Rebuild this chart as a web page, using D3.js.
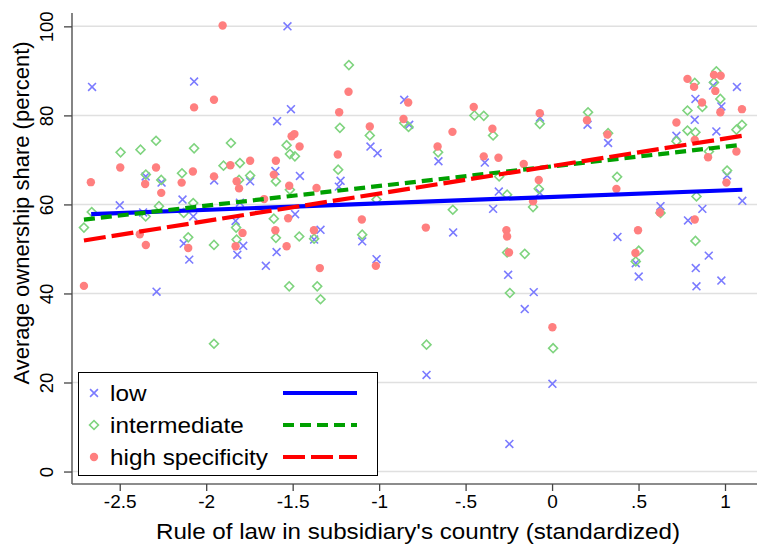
<!DOCTYPE html>
<html>
<head>
<meta charset="utf-8">
<script src="https://cdn.jsdelivr.net/npm/d3@7"></script>
<style>
  body { margin: 0; background: #fff; }
  text { font-family: "Liberation Sans", Arial, sans-serif; fill: #000; }
</style>
</head>
<body>
<div id="chart"></div>
<script>
// scatter data: [rule of law, ownership share]
var lowPts = [
  [-2.66, 86.4], [-2.07, 87.6], [-1.53, 100], [-1.51, 81.4], [-1.59, 78.7], [-1.458, 66.4],
  [-1.954, 65.4], [-1.746, 65.2], [-2.35, 66.3], [-2.258, 64.9], [-1.60, 67.5], [-2.5, 59.8],
  [-2.137, 61.1], [-2.365, 58.2], [-2.075, 57.3], [-1.83, 56.3], [-1.486, 57.8], [-1.805, 60.4],
  [-2.13, 51.2], [-1.786, 50.7], [-2.098, 47.6], [-1.82, 48.7], [-1.593, 49.3], [-1.655, 46.2],
  [-2.287, 40.4], [-1.05, 73], [-1.009, 71.5], [-0.855, 83.5], [-0.826, 77.9], [-1.223, 65.3],
  [-1.233, 64], [-1.098, 51.7], [-1.339, 54.3], [-1.376, 52.1], [-0.572, 53.7], [-0.657, 69.7],
  [-0.389, 69.4], [-0.071, 62.6], [-0.308, 62.9], [-0.341, 59], [-0.07, 79.5], [-1.015, 47.7],
  [-0.254, 44.2], [-0.106, 40.3], [-0.158, 36.5], [-0.726, 21.7], [-0.247, 6.2], [0.002, 19.7],
  [0.378, 52.7], [0.484, 46.8], [0.501, 43.8], [0.906, 48.5], [0.831, 45.7], [0.835, 41.6],
  [0.979, 42.9], [0.205, 77.9], [0.324, 73.8], [0.627, 59.6], [0.786, 56.4], [0.869, 59],
  [0.829, 83.7], [0.825, 79], [0.719, 75.4], [0.95, 76.4], [0.931, 86.7], [0.979, 82],
  [1.069, 86.4], [1.012, 66.5], [1.1, 60.8]
];
var midPts = [
  [-2.707, 54.8], [-2.662, 58.3], [-2.495, 71.7], [-2.38, 72.3], [-2.29, 74.3], [-2.07, 72.6],
  [-1.857, 73.8], [-1.535, 73.3], [-1.516, 71.3], [-1.487, 70.8], [-2.14, 67], [-1.90, 68.7],
  [-1.805, 69.3], [-1.746, 66.5], [-1.81, 65.5], [-2.349, 66.7], [-2.26, 65.5], [-1.597, 65.2],
  [-1.516, 63.3], [-2.075, 60.3], [-2.273, 59.6], [-2.13, 58.1], [-2.35, 57.3], [-1.827, 54.8],
  [-1.609, 56.8], [-2.104, 52.6], [-1.955, 50.9], [-1.824, 52.1], [-1.597, 52.5], [-1.462, 52.8],
  [-1.955, 28.7], [-1.52, 41.6], [-1.175, 91.3], [-1.227, 77.2], [-1.054, 75.5], [-0.855, 78.3],
  [-0.83, 77.4], [-1.237, 67.8], [-1.015, 61.1], [-1.098, 53.2], [-1.376, 52.3], [-0.574, 58.8],
  [-0.659, 71.7], [-0.449, 80], [-0.395, 79.9], [-0.341, 75.5], [-0.306, 66.3], [-0.077, 63.5],
  [-0.26, 62.2], [-0.11, 59.4], [-0.071, 78.1], [-1.358, 41.6], [-1.339, 38.7], [-0.26, 49.2],
  [-0.158, 48.9], [-0.244, 40.1], [-0.726, 28.5], [0.006, 27.7], [0.501, 49.6], [0.484, 47.2],
  [0.829, 51.8], [0.208, 80.7], [0.324, 76], [0.376, 66.2], [0.627, 58.1], [0.835, 61.8],
  [0.825, 87.3], [0.869, 81.9], [0.783, 81.1], [0.783, 76.6], [0.829, 76.2], [0.719, 74.2],
  [0.907, 71.9], [0.95, 89.9], [0.936, 87.4], [0.973, 83.7], [1.098, 77.9], [1.066, 76.8],
  [1.012, 67.6]
];
var highPts = [
  [-1.905, 100.2], [-1.955, 83.5], [-2.07, 81.8], [-1.506, 75.3], [-1.49, 75.8], [-1.46, 73],
  [-2.497, 68.3], [-2.29, 68.3], [-2.667, 65], [-1.86, 68.8], [-1.746, 69.8], [-1.597, 69.8],
  [-2.077, 67.4], [-1.955, 66.3], [-1.824, 65.2], [-1.81, 63.6], [-2.353, 64.6], [-2.26, 62.6],
  [-2.142, 64.9], [-1.609, 66.7], [-1.52, 64.2], [-1.665, 61.2], [-1.526, 56.9], [-1.79, 53.6],
  [-2.384, 53.3], [-2.349, 50.9], [-1.6, 54.2], [-1.535, 50.6], [-2.104, 50.2], [-1.83, 50.6],
  [-2.707, 41.7], [-1.177, 85.3], [-1.231, 80.7], [-1.054, 77.5], [-0.832, 82.9], [-0.859, 79.2],
  [-1.239, 71.2], [-1.362, 63.7], [-1.1, 56.6], [-1.377, 54.2], [-0.73, 54.8], [-0.576, 76.3],
  [-0.662, 73], [-0.453, 81.9], [-0.345, 77], [-0.395, 70.8], [-0.31, 70.5], [-0.164, 69.1],
  [-0.077, 65.5], [-0.11, 60.7], [-0.264, 54.2], [-0.26, 52.8], [-0.071, 80.5], [-1.019, 46.2],
  [-1.343, 45.7], [-0.249, 49.2], [0.002, 32.4], [0.497, 54.2], [0.482, 49.1], [0.202, 78.9],
  [0.32, 75.7], [0.372, 63.5], [0.623, 58.2], [0.825, 56.6], [0.783, 88.2], [0.821, 86.4],
  [0.867, 82.9], [0.719, 78.4], [0.825, 74.5], [0.902, 70.6], [0.936, 89.1], [0.975, 88.9],
  [0.944, 85.5], [0.973, 80.7], [1.098, 81.4], [1.066, 71.9], [1.008, 64.9]
];

// fitted lines: [x, y] at both ends, each over its own group's x range
var fitLow = [[-2.665, 57.8], [1.10, 63.3]];
var fitMid = [[-2.707, 56.6], [1.098, 73.4]];
var fitHigh = [[-2.707, 51.9], [1.098, 75.4]];

var xTicks = [-2.5, -2, -1.5, -1, -0.5, 0, 0.5, 1];
var xTickLabels = ["-2.5", "-2", "-1.5", "-1", "-.5", "0", ".5", "1"];
var yTicks = [0, 20, 40, 60, 80, 100];
var legendLabels = ["low", "intermediate", "high specificity"];

var W = 763, H = 546;
var plot = { left: 72, right: 757, top: 13, bottom: 484 };

var svg = d3.select("#chart").append("svg")
  .attr("width", W)
  .attr("height", H);

var x = d3.scaleLinear().domain([-2.776, 1.185]).range([plot.left, plot.right]);
var y = d3.scaleLinear().domain([-2.8, 103]).range([plot.bottom, plot.top]);

// gridlines
svg.append("g")
  .selectAll("line")
  .data(yTicks)
  .enter()
  .append("line")
  .attr("x1", plot.left)
  .attr("x2", plot.right)
  .attr("y1", function(d) { return y(d); })
  .attr("y2", function(d) { return y(d); })
  .attr("stroke", "#e0e0e0")
  .attr("stroke-width", 1.5);

// axes
var xAxis = d3.axisBottom(x)
  .tickValues(xTicks)
  .tickSize(7)
  .tickPadding(4)
  .tickFormat(function(d, i) { return xTickLabels[i]; });

var xAxisGroup = svg.append("g")
  .attr("transform", "translate(0," + plot.bottom + ")")
  .call(xAxis);
xAxisGroup.select(".domain").attr("d", "M" + plot.left + ",0H" + plot.right);

var yAxis = d3.axisLeft(y).tickValues(yTicks).tickSize(8).tickPadding(0);
var yAxisGroup = svg.append("g")
  .attr("transform", "translate(" + plot.left + ",0)")
  .call(yAxis);
yAxisGroup.select(".domain").attr("d", "M0," + plot.top + "V" + plot.bottom);

svg.selectAll(".domain").attr("stroke", "#666").attr("stroke-width", 1.6);
svg.selectAll(".tick line").attr("stroke", "#444").attr("stroke-width", 1.3);
xAxisGroup.selectAll("text")
  .style("font-size", "19px")
  .style("font-family", "Liberation Sans, Arial, sans-serif")
  .attr("fill", "#000");

yAxisGroup.selectAll("text")
  .attr("x", null)
  .attr("dy", null)
  .attr("transform", "translate(-19,0) rotate(-90)")
  .style("text-anchor", "middle")
  .style("font-size", "18.5px")
  .style("font-family", "Liberation Sans, Arial, sans-serif")
  .attr("fill", "#000");

// axis titles
svg.append("text")
  .attr("x", 156)
  .attr("y", 539)
  .attr("textLength", 524)
  .attr("lengthAdjust", "spacingAndGlyphs")
  .style("font-size", "22.5px")
  .text("Rule of law in subsidiary's country (standardized)");

svg.append("text")
  .attr("transform", "translate(29,213) rotate(-90)")
  .attr("text-anchor", "middle")
  .style("font-size", "22px")
  .text("Average ownership share (percent)");

// markers
var cross = d3.symbol().type(d3.symbolTimes).size(42);
var diamond = d3.symbol().type(d3.symbolSquare).size(40);

function drawCross(g, pts) {
  g.selectAll(".low")
    .data(pts)
    .enter()
    .append("path")
    .attr("class", "low")
    .attr("d", cross)
    .attr("transform", function(d) { return "translate(" + x(d[0]) + "," + y(d[1]) + ")"; })
    .attr("fill", "none")
    .attr("stroke", "#7b7bff")
    .attr("stroke-width", 1.6);
}

function drawDiamond(g, pts) {
  g.selectAll(".mid")
    .data(pts)
    .enter()
    .append("path")
    .attr("class", "mid")
    .attr("d", diamond)
    .attr("transform", function(d) { return "translate(" + x(d[0]) + "," + y(d[1]) + ") rotate(45)"; })
    .attr("fill", "none")
    .attr("stroke", "#7fd47f")
    .attr("stroke-width", 1.6);
}

function drawDot(g, pts) {
  g.selectAll(".high")
    .data(pts)
    .enter()
    .append("circle")
    .attr("class", "high")
    .attr("cx", function(d) { return x(d[0]); })
    .attr("cy", function(d) { return y(d[1]); })
    .attr("r", 4.2)
    .attr("fill", "#ff7f7f");
}

var pointsG = svg.append("g");
drawCross(pointsG.append("g"), lowPts);
drawDiamond(pointsG.append("g"), midPts);
drawDot(pointsG.append("g"), highPts);

// fit lines
var fits = [
  { vals: fitLow, color: "#0000ff", dash: null },
  { vals: fitMid, color: "#00a000", dash: "11,6" },
  { vals: fitHigh, color: "#ff0000", dash: "22,6" }
];

var line = d3.line()
  .x(function(d) { return x(d[0]); })
  .y(function(d) { return y(d[1]); });

svg.append("g")
  .selectAll("path")
  .data(fits)
  .enter()
  .append("path")
  .attr("d", function(d) { return line(d.vals); })
  .attr("fill", "none")
  .attr("stroke", function(d) { return d.color; })
  .attr("stroke-width", 4.2)
  .attr("stroke-dasharray", function(d) { return d.dash; });

// legend
var legend = svg.append("g");
legend.append("rect")
  .attr("x", 78.5)
  .attr("y", 372.5)
  .attr("width", 299)
  .attr("height", 103)
  .attr("fill", "#fff")
  .attr("stroke", "#000")
  .attr("stroke-width", 1);

var legendY = [393, 425, 457];

legend.append("path")
  .attr("d", cross)
  .attr("transform", "translate(94," + legendY[0] + ")")
  .attr("fill", "none")
  .attr("stroke", "#7b7bff")
  .attr("stroke-width", 1.6);
legend.append("path")
  .attr("d", diamond)
  .attr("transform", "translate(94," + legendY[1] + ") rotate(45)")
  .attr("fill", "none")
  .attr("stroke", "#7fd47f")
  .attr("stroke-width", 1.6);
legend.append("circle")
  .attr("cx", 94)
  .attr("cy", legendY[2])
  .attr("r", 4.2)
  .attr("fill", "#ff7f7f");

legend.selectAll(".lab")
  .data(legendLabels)
  .enter()
  .append("text")
  .attr("class", "lab")
  .attr("transform", function(d, i) { return "translate(110," + (legendY[i] + 8) + ") scale(1.08,1)"; })
  .style("font-size", "22.5px")
  .text(function(d) { return d; });

legend.selectAll(".key")
  .data(fits)
  .enter()
  .append("line")
  .attr("class", "key")
  .attr("x1", 283)
  .attr("x2", 357)
  .attr("y1", function(d, i) { return legendY[i]; })
  .attr("y2", function(d, i) { return legendY[i]; })
  .attr("stroke", function(d) { return d.color; })
  .attr("stroke-width", 4.2)
  .attr("stroke-dasharray", function(d) { return d.dash; });
</script>
</body>
</html>
